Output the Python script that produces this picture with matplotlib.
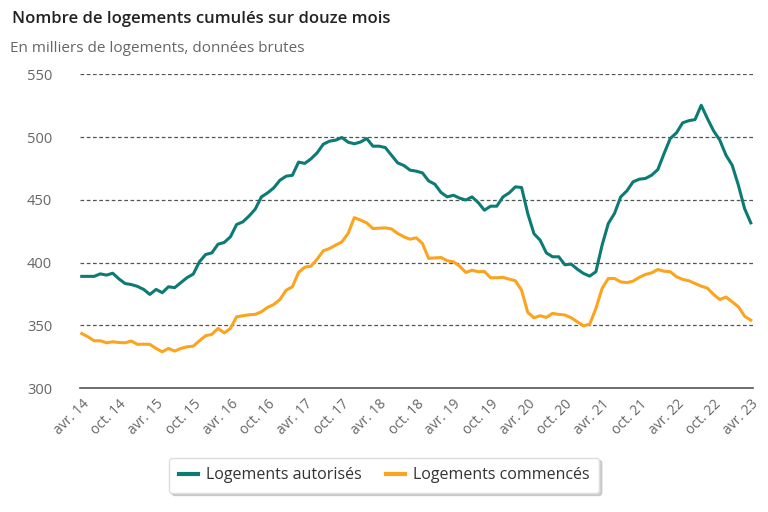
import numpy as np
import matplotlib.pyplot as plt

# mois d'avril 2014 a avril 2023 (109 points)
autorises = [389, 389, 389, 391, 390, 391.5, 387, 383.3, 382.5, 381,
             378.6, 374.6, 378.6, 376, 380.7, 380, 384, 388, 390.8, 400.6,
             406.4, 407.7, 414.6, 416, 420.5, 430.3, 432.4, 437, 442.5, 452.3,
             455.5, 459.5, 465.6, 468.8, 469.5, 480, 479, 482.6, 487.4, 494.3,
             496.7, 497.5, 499.6, 495.9, 494.6, 496, 498.8, 492.7, 492.7, 491.6,
             485.5, 479.4, 477.3, 473.6, 472.8, 471.4, 465, 462.4, 455.8, 452.3,
             453.6, 451.3, 449.8, 452.3, 447.8, 441.7, 444.9, 444.9, 452.3, 455.5,
             460.3, 459.8, 439, 423, 417.8, 407.7, 404.6, 404.6, 398.2, 398.8,
             394.7, 391.3, 389.2, 392.7, 413.9, 431.1, 439.1, 452.3, 457.1, 464.3,
             466.4, 467, 469.6, 474.1, 486.8, 498.8, 503.3, 511.3, 513, 513.9,
             525.3, 514.7, 504.9, 497.5, 485.5, 477.5, 461.6, 443, 431.6]
commences = [343.5, 340.9, 337.7, 337.7, 336.1, 336.9, 336.3, 336.1, 337.5, 334.8,
             335, 334.8, 331.6, 328.9, 331.6, 329.5, 331.6, 332.9, 333.4, 337.7,
             341.7, 342.8, 347.5, 344, 347.5, 356.8, 357.6, 358.4, 358.7, 360.8,
             364.3, 366.6, 370.6, 378, 380.7, 392.1, 396.3, 397.1, 402.7, 409.4,
             411.2, 413.9, 416.5, 423.2, 435.8, 433.8, 431.6, 427.1, 427.4, 427.6,
             426.8, 423.2, 420.5, 418.6, 419.7, 415.2, 403.3, 403.7, 404, 401.4,
             400.6, 397.1, 392.1, 393.9, 392.7, 392.9, 387.9, 387.9, 388.2, 386.8,
             385.5, 378, 360.3, 356, 357.6, 356.3, 359.5, 358.7, 358.2, 356,
             352.8, 349.6, 350.9, 363.4, 379.4, 387.3, 387.3, 384.6, 384, 385.2,
             388.2, 390.5, 391.8, 394.5, 393.1, 392.7, 388.7, 386.6, 385.5, 383.3,
             381.2, 379.6, 374.6, 370.6, 372.5, 368.7, 364.8, 357.3, 354.1]
tick_labels = ['avr. 14', 'oct. 14', 'avr. 15', 'oct. 15', 'avr. 16', 'oct. 16',
               'avr. 17', 'oct. 17', 'avr. 18', 'oct. 18', 'avr. 19', 'oct. 19',
               'avr. 20', 'oct. 20', 'avr. 21', 'oct. 21', 'avr. 22', 'oct. 22',
               'avr. 23']

plt.rcParams['font.family'] = ['Open Sans', 'DejaVu Sans']

teal = '#0b7b73'
orange = '#fca41e'

fig = plt.figure(figsize=(7.68, 5.12), dpi=100)
ax = fig.add_axes([0.104, 0.242, 0.876, 0.613])

x = np.arange(len(autorises))
ax.plot(x, autorises, color=teal, lw=2.2, label='Logements autorisés', solid_joinstyle='round')
ax.plot(x, commences, color=orange, lw=2.2, label='Logements commencés', solid_joinstyle='round')

ax.set_xlim(-0.3, 108.3)
ax.set_ylim(300, 550)
ax.set_yticks([300, 350, 400, 450, 500, 550])
ax.set_xticks(np.arange(0, 109, 6))
ax.set_xticklabels(tick_labels, rotation=45, ha='right', rotation_mode='anchor',
                   fontsize=10, color='#666666')
ax.tick_params(axis='x', length=0, pad=6)
ax.tick_params(axis='y', length=0, pad=20, labelsize=10.5, labelcolor='#666666')

for v in [350, 400, 450, 500, 550]:
    ax.axhline(v, color='#555555', lw=0.9, ls=(0, (3, 2)), zorder=0)

for s in ['top', 'right', 'left']:
    ax.spines[s].set_visible(False)
ax.spines['bottom'].set_color('#555555')
ax.spines['bottom'].set_linewidth(1.2)

fig.text(0.016, 0.962, 'Nombre de logements cumulés sur douze mois', fontsize=12,
         color='#222222', fontweight='semibold', va='center')
fig.text(0.013, 0.905, 'En milliers de logements, données brutes', fontsize=11,
         color='#666666', va='center')

leg = fig.legend(loc='center', bbox_to_anchor=(0.5, 0.072), ncol=2, frameon=True,
                 fontsize=11.5, handlelength=1.2, columnspacing=1.5, fancybox=True,
                 shadow={'color': '#bbbbbb', 'alpha': 0.7, 'ox': 2, 'oy': -2},
                 borderpad=0.6, handletextpad=0.5)
leg.get_frame().set_edgecolor('#dddddd')
leg.get_frame().set_boxstyle('round', pad=0, rounding_size=0.2)
for t in leg.get_texts():
    t.set_color('#333333')
for h in leg.get_lines():
    h.set_linewidth(3)

fig.savefig('out.png', dpi=100)
